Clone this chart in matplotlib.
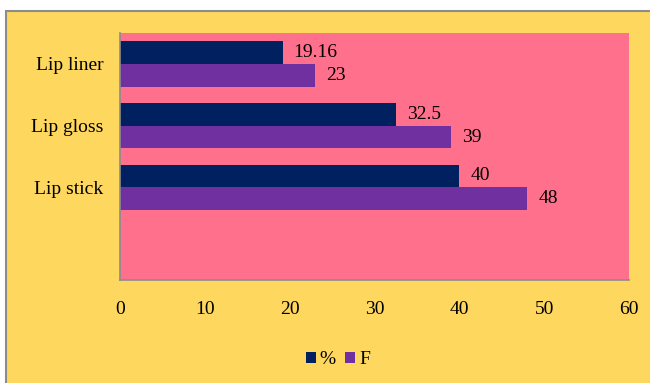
import matplotlib
matplotlib.use("Agg")
from matplotlib import pyplot as plt
from matplotlib.patches import Rectangle

# categories top to bottom, last slot is empty in the original chart
categories = ['Lip liner', 'Lip gloss', 'Lip stick', '']
pct_vals = [19.16, 32.5, 40, None]
f_vals = [23, 39, 48, None]
pct_labels = ['19.16', '32.5', '40']
f_labels = ['23', '39', '48']
xticks = [0, 10, 20, 30, 40, 50, 60]

navy = '#002060'
purple = '#7030A0'
pink = '#FF708C'
yellow = '#FED75E'

plt.rcParams['font.family'] = ['Liberation Serif', 'DejaVu Serif']

W, H = 650, 383
fig = plt.figure(figsize=(W / 100, H / 100), dpi=100)
fig.patch.set_facecolor('white')

# yellow chart area with grey border
bg = Rectangle((6 / W, -0.01), 1.0, (H - 11) / H + 0.01, transform=fig.transFigure,
               facecolor=yellow, edgecolor='#8C8C8C', linewidth=1.5, zorder=-10)
fig.patches.append(bg)

ax = fig.add_axes([120 / W, 1 - 280 / H, (629 - 120) / W, (280 - 33) / H])
ax.set_facecolor(pink)

n = len(categories)
ypos = [n - 1 - i for i in range(n)]
bh = 0.37

for i in range(n):
    if pct_vals[i] is None:
        continue
    y = ypos[i]
    ax.barh(y + bh / 2, pct_vals[i], height=bh, color=navy, label='%' if i == 0 else None)
    ax.barh(y - bh / 2, f_vals[i], height=bh, color=purple, label='F' if i == 0 else None)
    ax.text(pct_vals[i] + 1.3, y + bh / 2, pct_labels[i], va='center', ha='left', fontsize=14)
    ax.text(f_vals[i] + 1.3, y - bh / 2, f_labels[i], va='center', ha='left', fontsize=14)

ax.set_xlim(0, 60)
ax.set_ylim(-0.5, n - 0.5)
ax.set_xticks(xticks)
ax.set_xticklabels([str(t) for t in xticks], fontsize=14)
ax.set_yticks(ypos)
ax.set_yticklabels(categories, fontsize=14)
ax.tick_params(axis='both', length=0)
ax.tick_params(axis='x', pad=15)
ax.tick_params(axis='y', pad=12)

for s in ['top', 'right']:
    ax.spines[s].set_visible(False)
for s in ['left', 'bottom']:
    ax.spines[s].set_color('#8C8C8C')
    ax.spines[s].set_linewidth(1.2)

leg = fig.legend(loc='center', bbox_to_anchor=(338 / W, 1 - 360 / H), ncol=2, frameon=False,
                 fontsize=14, handlelength=0.5, handleheight=0.5, handletextpad=0.2,
                 columnspacing=0.5)

fig.savefig('out.png', dpi=100, facecolor=fig.get_facecolor())
